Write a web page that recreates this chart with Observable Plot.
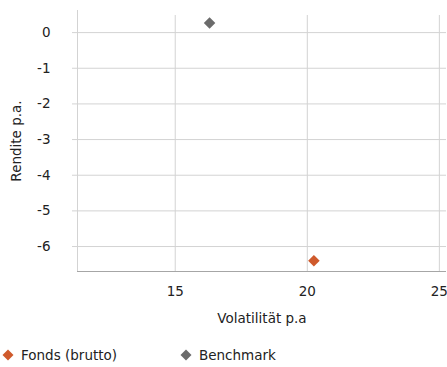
<!DOCTYPE html>
<html><head><meta charset="utf-8">
<script src="https://cdn.jsdelivr.net/npm/d3@7"></script>
<script src="https://cdn.jsdelivr.net/npm/@observablehq/plot@0.6"></script>
<style>
body{margin:0;background:#fff;font-family:"DejaVu Sans",sans-serif;}
#legend{position:relative;height:27px;font-size:13.5px;color:#222;}
.item{position:absolute;top:7px;display:flex;align-items:center;}
.item svg{margin-right:7px;}
</style></head>
<body>
<div id="chart"></div>
<div id="legend"></div>
<script>
const series = ["Fonds (brutto)", "Benchmark"];
const volatility = [20.25, 16.3];
const returns = [-6.4, 0.27];
const colors = ["#cf5a2c", "#6b6b6b"];
const xTicks = [15, 20, 25];
const yTicks = [0, -1, -2, -3, -4, -5, -6];
const xDomain = [11.3, 25.27];
const yDomain = [-6.7, 0.62];

const data = series.map((s, i) => ({series: s, x: volatility[i], y: returns[i], color: colors[i]}));

const plot = Plot.plot({
  width: 447,
  height: 340,
  marginLeft: 77,
  marginRight: 1,
  marginTop: 10,
  marginBottom: 69,
  style: {fontFamily: "DejaVu Sans, sans-serif", fontSize: "13.5px", color: "#222"},
  x: {domain: xDomain},
  y: {domain: yDomain},
  marks: [
    Plot.ruleX(xTicks, {stroke: "#d3d3d3", y1: yDomain[0], y2: yDomain[1], insetBottom: -5}),
    Plot.ruleY(yTicks, {stroke: "#d3d3d3", x1: xDomain[0], x2: xDomain[1], insetLeft: -5}),
    Plot.ruleX([xDomain[0]], {stroke: "#d3d3d3"}),
    Plot.ruleY([yDomain[0]], {stroke: "#a6a6a6", x1: xDomain[0], x2: xDomain[1]}),
    Plot.axisX(xTicks, {tickSize: 0, tickPadding: 15, tickFormat: d => String(d), label: "Volatilität p.a", labelAnchor: "center", labelArrow: "none", labelOffset: 51, fill: "#222", fontSize: 13.5}),
    Plot.axisY(yTicks, {tickSize: 0, tickPadding: 27, tickFormat: d => String(d), label: "Rendite p.a.", labelAnchor: "center", labelArrow: "none", labelOffset: 66, fill: "#222", fontSize: 13.5}),
    Plot.dot(data, {x: "x", y: "y", fill: "color", symbol: "diamond2", r: 5.2})
  ]
});
document.getElementById("chart").appendChild(plot);

const legend = document.getElementById("legend");
const lx = [2, 180];
series.forEach((s, i) => {
  const d = document.createElement("div");
  d.className = "item";
  d.style.left = lx[i] + "px";
  d.innerHTML = `<svg width="12" height="12"><path d="M6,0.5L11.5,6L6,11.5L0.5,6Z" fill="${colors[i]}"/></svg><span>${s}</span>`;
  legend.appendChild(d);
});
</script>
</body></html>
